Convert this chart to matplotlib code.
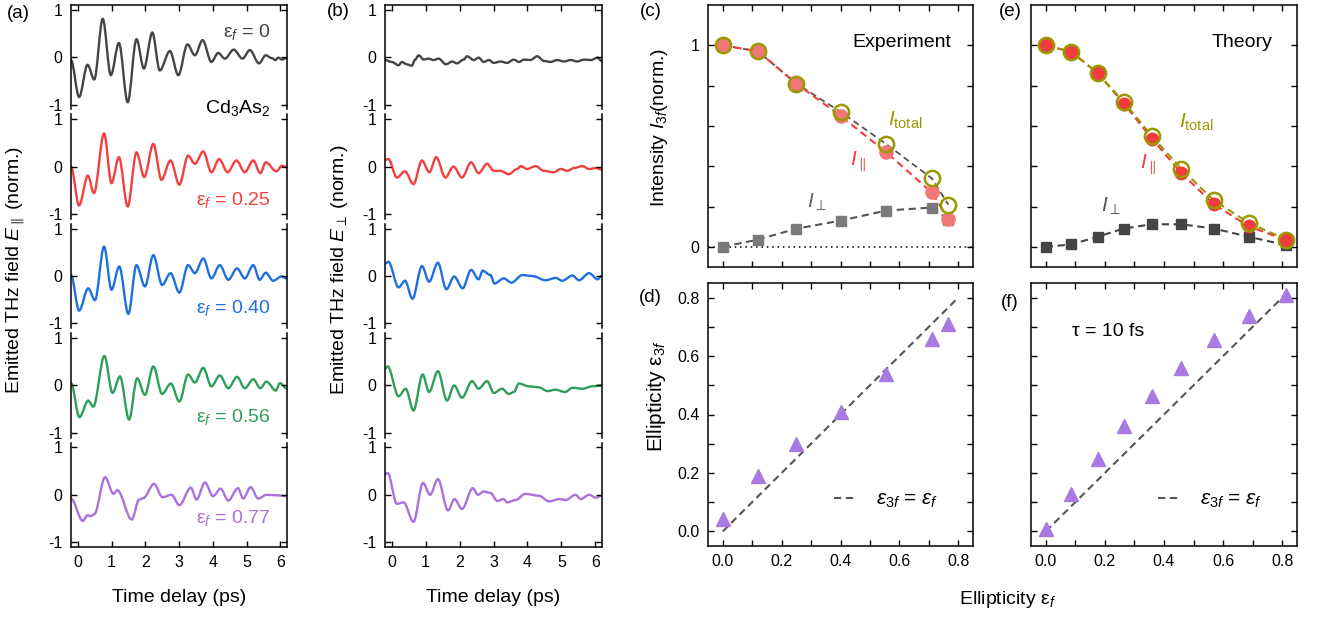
#THz third-harmonic emission from Cd3As2 vs. pump ellipticity
#panels (a)-(f) redrawn from the figure

import numpy as np
import matplotlib
matplotlib.use('Agg')
import matplotlib.pyplot as plt
from matplotlib.ticker import MultipleLocator, FixedLocator
from matplotlib.path import Path
from matplotlib.patches import PathPatch

plt.rcParams['font.family'] = ['Liberation Sans', 'DejaVu Sans']
plt.rcParams['mathtext.fontset'] = 'custom'
plt.rcParams['mathtext.rm'] = 'Liberation Sans'
plt.rcParams['mathtext.it'] = 'Liberation Sans:italic'
plt.rcParams['mathtext.bf'] = 'Liberation Sans:bold'
plt.rcParams['axes.unicode_minus'] = False

# ---- data ----
# (a) parallel field, one trace per ellipticity (extrema of each wiggle)
par_t = [
    [-0.20, 0.04, 0.29, 0.49, 0.74, 0.98, 1.22, 1.48, 1.74, 1.96, 2.21, 2.43, 2.73, 2.98, 3.25, 3.47, 3.70, 3.96, 4.16, 4.36, 4.62, 4.88, 5.10, 5.37, 5.57, 5.75, 5.85, 5.95, 6.05, 6.18],
    [-0.20, 0.04, 0.30, 0.48, 0.78, 1.00, 1.22, 1.48, 1.74, 1.97, 2.24, 2.48, 2.75, 3.01, 3.27, 3.47, 3.72, 3.96, 4.19, 4.44, 4.70, 4.95, 5.20, 5.41, 5.57, 5.89, 6.05, 6.18],
    [-0.20, 0.04, 0.31, 0.51, 0.78, 1.00, 1.23, 1.50, 1.74, 1.99, 2.24, 2.50, 2.75, 3.01, 3.27, 3.47, 3.72, 3.96, 4.21, 4.46, 4.72, 4.95, 5.20, 5.39, 5.57, 5.79, 6.04, 6.18],
    [-0.20, 0.05, 0.31, 0.46, 0.79, 1.03, 1.25, 1.52, 1.76, 1.99, 2.24, 2.50, 2.76, 3.01, 3.27, 3.47, 3.72, 3.96, 4.21, 4.46, 4.72, 4.95, 5.20, 5.41, 5.59, 5.87, 5.99, 6.18],
    [-0.20, 0.15, 0.29, 0.38, 0.49, 0.81, 1.06, 1.17, 1.60, 1.82, 1.94, 2.26, 2.51, 2.78, 3.01, 3.35, 3.52, 3.77, 4.01, 4.23, 4.46, 4.75, 4.90, 5.12, 5.35, 5.59, 5.89, 6.18],
]
par_v = [
    [-0.06, -0.84, -0.16, -0.47, 0.81, -0.38, 0.30, -0.95, 0.38, -0.24, 0.52, -0.28, 0.13, -0.38, 0.27, 0.04, 0.36, -0.10, 0.09, -0.03, 0.16, -0.03, 0.15, -0.13, 0.04, -0.02, -0.06, -0.01, -0.05, -0.02],
    [0.00, -0.82, -0.19, -0.56, 0.70, -0.35, 0.20, -0.84, 0.30, -0.22, 0.48, -0.28, 0.13, -0.38, 0.23, 0.06, 0.32, -0.12, 0.16, -0.12, 0.13, -0.12, 0.13, -0.14, 0.09, -0.10, 0.02, -0.01],
    [0.02, -0.73, -0.26, -0.51, 0.62, -0.29, 0.20, -0.80, 0.23, -0.22, 0.44, -0.19, 0.06, -0.35, 0.23, 0.06, 0.37, -0.05, 0.23, -0.08, 0.16, -0.05, 0.23, -0.08, 0.07, -0.10, -0.01, -0.05],
    [0.05, -0.67, -0.32, -0.45, 0.62, -0.16, 0.19, -0.72, 0.15, -0.20, 0.40, -0.18, 0.04, -0.34, 0.23, 0.06, 0.37, -0.02, 0.21, -0.06, 0.18, -0.06, 0.13, -0.06, 0.08, -0.11, 0.05, -0.06],
    [-0.08, -0.55, -0.43, -0.45, -0.41, 0.37, 0.02, 0.10, -0.52, -0.10, -0.07, 0.23, -0.05, 0.00, -0.22, 0.15, -0.10, 0.26, -0.03, 0.13, -0.12, 0.14, -0.08, 0.16, -0.08, 0.00, -0.01, -0.03],
]

# (b) perpendicular field
perp_t = [
    [-0.20, 0.00, 0.20, 0.30, 0.44, 0.59, 0.69, 0.79, 0.94, 1.08, 1.23, 1.38, 1.60, 1.78, 1.92, 2.12, 2.22, 2.42, 2.56, 2.71, 2.86, 3.01, 3.21, 3.40, 3.60, 3.75, 3.90, 4.09, 4.29, 4.49, 4.68, 4.88, 5.08, 5.28, 5.47, 5.67, 5.87, 6.07, 6.19],
    [-0.20, -0.10, 0.15, 0.39, 0.64, 0.89, 1.11, 1.31, 1.58, 1.82, 2.07, 2.34, 2.56, 2.81, 3.01, 3.21, 3.45, 3.70, 3.80, 3.99, 4.24, 4.49, 4.78, 4.98, 5.18, 5.37, 5.62, 5.82, 6.02, 6.19],
    [-0.20, -0.10, 0.20, 0.39, 0.61, 0.89, 1.10, 1.36, 1.61, 1.84, 2.09, 2.34, 2.56, 2.68, 2.91, 3.03, 3.30, 3.53, 3.85, 4.14, 4.54, 4.83, 5.03, 5.33, 5.52, 5.82, 6.07, 6.19],
    [-0.20, -0.12, 0.20, 0.41, 0.64, 0.91, 1.10, 1.36, 1.63, 1.84, 2.07, 2.37, 2.56, 2.81, 3.01, 3.25, 3.45, 3.60, 3.75, 4.04, 4.34, 4.59, 4.83, 5.11, 5.33, 5.62, 5.92, 6.19],
    [-0.20, -0.12, 0.15, 0.35, 0.64, 0.92, 1.13, 1.36, 1.66, 1.85, 2.07, 2.39, 2.54, 2.71, 2.91, 3.11, 3.30, 3.40, 3.65, 3.94, 4.34, 4.64, 4.93, 5.13, 5.42, 5.57, 5.82, 6.02, 6.19],
]
perp_v = [
    [-0.06, -0.10, -0.17, -0.10, -0.15, -0.18, -0.05, 0.04, -0.05, -0.03, -0.06, -0.03, -0.15, -0.09, -0.13, -0.05, 0.02, -0.06, -0.01, -0.10, -0.06, -0.12, -0.09, -0.12, -0.05, -0.10, -0.05, -0.06, 0.02, -0.08, -0.10, -0.06, -0.09, -0.06, -0.09, -0.05, -0.06, -0.01, -0.08],
    [0.14, 0.16, -0.23, -0.10, -0.37, 0.13, -0.12, 0.20, -0.23, 0.00, -0.23, 0.09, -0.14, 0.06, -0.09, -0.09, -0.16, -0.05, 0.01, -0.05, 0.01, -0.09, -0.12, -0.05, -0.09, -0.03, 0.01, -0.05, -0.03, -0.06],
    [0.26, 0.30, -0.24, -0.10, -0.48, 0.21, -0.12, 0.28, -0.28, -0.01, -0.26, 0.13, -0.07, 0.11, 0.02, -0.16, -0.05, -0.14, 0.02, 0.00, -0.09, -0.04, -0.10, 0.01, -0.09, 0.06, -0.07, 0.00],
    [0.35, 0.40, -0.23, -0.07, -0.53, 0.23, -0.14, 0.30, -0.32, 0.00, -0.26, 0.09, -0.07, 0.09, -0.16, -0.07, -0.18, -0.14, 0.04, -0.02, -0.04, -0.12, -0.09, -0.14, -0.05, -0.07, -0.02, 0.00],
    [0.43, 0.46, -0.19, -0.16, -0.57, 0.25, 0.00, 0.33, -0.33, -0.09, -0.30, 0.14, 0.00, 0.07, 0.04, -0.13, -0.09, -0.16, -0.11, 0.02, -0.02, -0.14, -0.09, -0.11, 0.00, -0.09, 0.00, -0.06, -0.02],
]
eps_labels = ['0', '0.25', '0.40', '0.56', '0.77']

# (c)/(d) experiment
eps_exp = [0.0, 0.12, 0.25, 0.40, 0.555, 0.71, 0.766]
I_tot_exp = [1.0, 0.97, 0.81, 0.67, 0.51, 0.34, 0.21]
I_par_exp = [1.0, 0.97, 0.81, 0.65, 0.47, 0.27, 0.14]
I_perp_exp = [0.0, 0.036, 0.09, 0.13, 0.18, 0.195, 0.135]
eps3f_exp = [0.042, 0.19, 0.30, 0.41, 0.54, 0.66, 0.71]

# (e)/(f) theory, tau = 10 fs
eps_th = [0.0, 0.087, 0.175, 0.264, 0.359, 0.458, 0.568, 0.687, 0.814]
I_tot_th = [1.0, 0.967, 0.863, 0.719, 0.549, 0.388, 0.231, 0.119, 0.036]
I_par_th = [1.0, 0.967, 0.863, 0.711, 0.537, 0.367, 0.212, 0.102, 0.033]
I_perp_th = [0.0, 0.012, 0.05, 0.091, 0.112, 0.112, 0.091, 0.05, 0.008]
eps3f_th = [0.008, 0.129, 0.248, 0.36, 0.463, 0.56, 0.654, 0.737, 0.808]

diag = [0.0, 0.8]

# colours
trace_colors = ['#444444', '#f23f3f', '#1f6fe0', '#2e9e5b', '#a872dc']
olive = '#999900'
red = '#f03c3c'
purple_tri = '#a97ae0'

W, H = 1325, 618
fig = plt.figure(figsize=(W / 100, H / 100), dpi=100)


def px_axes(x0, y0, x1, y1):
    # axes from pixel box (top-left origin)
    return fig.add_axes([x0 / W, 1 - y1 / H, (x1 - x0) / W, (y1 - y0) / H])


def style(ax):
    ax.tick_params(which='both', direction='in', top=True, right=True,
                   length=4, width=1, labelsize=11.5, pad=6)
    for s in ax.spines.values():
        s.set_linewidth(1.1)


def smooth_trace(ax, t, v, color):
    # draw the read-off extrema joined by smooth bezier segments
    verts = [(t[0], v[0])]
    codes = [Path.MOVETO]
    for i in range(len(t) - 1):
        dt = t[i + 1] - t[i]
        verts += [(t[i] + dt / 3, v[i]), (t[i + 1] - dt / 3, v[i + 1]), (t[i + 1], v[i + 1])]
        codes += [Path.CURVE4] * 3
    ax.add_patch(PathPatch(Path(verts, codes), fill=False, edgecolor=color,
                           lw=1.7, joinstyle='round', capstyle='round'))


# ---- panels (a) and (b) ----
label_y = [0.53, -0.71, -0.68, -0.66, -0.49]
sub_h = 104.4
for k in range(5):
    top = 5 + k * (sub_h + 5)
    ax_a = px_axes(71, top, 287, top + sub_h)
    ax_b = px_axes(385, top, 602, top + sub_h)
    for ax, tt, vv in [(ax_a, par_t[k], par_v[k]), (ax_b, perp_t[k], perp_v[k])]:
        ax.set_facecolor('none')
        smooth_trace(ax, tt, vv, trace_colors[k])
        ax.set_xlim(-0.2, 6.2)
        ax.set_ylim(-1.1, 1.1)
        ax.set_yticks([-1, 0, 1])
        ax.set_xticks(range(7))
        style(ax)
        ax.spines['top'].set_visible(k == 0)
        ax.spines['bottom'].set_visible(k == 4)
        ax.tick_params(top=(k == 0), bottom=(k == 4), labelbottom=(k == 4))
    ax_a.text(5.7, label_y[k], 'ε$_f$ = ' + eps_labels[k], color=trace_colors[k],
              fontsize=14, ha='right', va='center')
    if k == 0:
        ax_a.text(5.7, -1.07, 'Cd$_3$As$_2$', fontsize=14, ha='right', va='center',
                  clip_on=False, zorder=10)

fig.text(15 / W, 1 - 270 / H, 'Emitted THz field $E_{\\parallel}$ (norm.)',
         rotation=90, ha='center', va='center', fontsize=14)
fig.text(340 / W, 1 - 270 / H, 'Emitted THz field $E_{\\perp}$ (norm.)',
         rotation=90, ha='center', va='center', fontsize=14)
fig.text(179 / W, 1 - 598 / H, 'Time delay (ps)', ha='center', va='center', fontsize=14)
fig.text(493 / W, 1 - 598 / H, 'Time delay (ps)', ha='center', va='center', fontsize=14)

# ---- intensity panels (c) and (e) ----
ax_c = px_axes(708, 5, 973, 267)
ax_e = px_axes(1031, 5, 1297, 267)
ax_d = px_axes(708, 283, 973, 546)
ax_f = px_axes(1031, 283, 1297, 546)

dash = (3.5, 2.2)
# experiment
ax_c.axhline(0, color='black', lw=1.1, ls=(0, (1, 2.5)), zorder=1)
ax_c.plot(eps_exp, I_perp_exp, color='#555555', lw=1.5, dashes=dash, zorder=2)
ax_c.plot(eps_exp, I_perp_exp, 's', color='#7a7a7a', ms=7.5, zorder=3)
ax_c.plot(eps_exp, I_tot_exp, color='#555555', lw=1.3, dashes=dash, zorder=2)
ax_c.plot(eps_exp, I_par_exp, color=red, lw=1.5, dashes=dash, zorder=2)
ax_c.plot(eps_exp, I_par_exp, 'o', color='#f27878', ms=9.5, zorder=3)
ax_c.plot(eps_exp, I_tot_exp, 'o', mfc='none', mec=olive, mew=1.8, ms=11, zorder=4)

# theory
ax_e.plot(eps_th, I_perp_th, color='#444444', lw=1.5, dashes=dash, zorder=2)
ax_e.plot(eps_th, I_perp_th, 's', color='#444444', ms=7.5, zorder=3)
ax_e.plot(eps_th, I_par_th, color=red, lw=1.5, dashes=dash, zorder=2)
ax_e.plot(eps_th, I_tot_th, color=olive, lw=1.5, dashes=dash, zorder=2)
ax_e.plot(eps_th, I_par_th, 'o', color=red, ms=9, zorder=3)
ax_e.plot(eps_th, I_tot_th, 'o', mfc='none', mec=olive, mew=1.8, ms=11, zorder=4)

for ax in (ax_c, ax_e):
    ax.set_xlim(-0.05, 0.85)
    ax.set_ylim(-0.1, 1.2)
    ax.xaxis.set_major_locator(MultipleLocator(0.2))
    ax.xaxis.set_minor_locator(MultipleLocator(0.1))
    ax.yaxis.set_major_locator(FixedLocator([0, 1]))
    ax.yaxis.set_minor_locator(FixedLocator([0.2, 0.4, 0.6, 0.8]))
    style(ax)
    ax.tick_params(labelbottom=False)
ax_e.tick_params(labelleft=False)

ax_c.text(0.73, 0.855, 'Experiment', transform=ax_c.transAxes, fontsize=14,
          ha='center', va='center')
ax_e.text(0.795, 0.855, 'Theory', transform=ax_e.transAxes, fontsize=14,
          ha='center', va='center')
ax_c.text(0.62, 0.63, '$I_{\\mathrm{total}}$', color=olive, fontsize=15, ha='center', va='center')
ax_c.text(0.458, 0.42, '$I_{\\parallel}$', color=red, fontsize=15, ha='center', va='center')
ax_c.text(0.32, 0.22, '$I_{\\perp}$', color='#666666', fontsize=15, ha='center', va='center')
ax_e.text(0.51, 0.62, '$I_{\\mathrm{total}}$', color=olive, fontsize=15, ha='center', va='center')
ax_e.text(0.345, 0.405, '$I_{\\parallel}$', color=red, fontsize=15, ha='center', va='center')
ax_e.text(0.22, 0.20, '$I_{\\perp}$', color='#555555', fontsize=15, ha='center', va='center')

# ---- ellipticity panels (d) and (f) ----
for ax, ex, e3 in [(ax_d, eps_exp, eps3f_exp), (ax_f, eps_th, eps3f_th)]:
    ax.plot(diag, diag, color='#555555', lw=1.5, dashes=dash,
            label='$\\varepsilon_{3f}$ = $\\varepsilon_f$')
    ax.plot(ex, e3, '^', color=purple_tri, ms=10, ls='none')
    ax.set_xlim(-0.05, 0.85)
    ax.set_ylim(-0.05, 0.85)
    ax.xaxis.set_major_locator(MultipleLocator(0.2))
    ax.xaxis.set_minor_locator(MultipleLocator(0.1))
    ax.yaxis.set_major_locator(MultipleLocator(0.2))
    ax.yaxis.set_minor_locator(MultipleLocator(0.1))
    ax.xaxis.set_major_formatter(lambda v, p: f'{v:.1f}')
    ax.yaxis.set_major_formatter(lambda v, p: f'{v:.1f}')
    style(ax)
    ax.legend(loc='center right', bbox_to_anchor=(0.9, 0.175), frameon=False,
              fontsize=15, handlelength=1.0, handletextpad=1.0, borderaxespad=0)
ax_f.tick_params(labelleft=False)
ax_f.text(0.21, 0.685, 'τ = 10 fs', fontsize=14, ha='center', va='center')

fig.text(659 / W, 1 - 128 / H, 'Intensity $I_{3f}$(norm.)', rotation=90,
         ha='center', va='center', fontsize=14)
fig.text(656 / W, 1 - 396 / H, 'Ellipticity ε$_{3f}$', rotation=90,
         ha='center', va='center', fontsize=15)
fig.text(1008 / W, 1 - 600 / H, 'Ellipticity ε$_f$', ha='center', va='center', fontsize=14)

# panel letters
for txt, x, y in [('(a)', 18, 13), ('(b)', 338, 12), ('(c)', 651, 11),
                  ('(d)', 650, 298), ('(e)', 1010, 11), ('(f)', 1010, 302)]:
    fig.text(x / W, 1 - y / H, txt, ha='center', va='center', fontsize=13.5)

fig.savefig('out.png', dpi=100)
